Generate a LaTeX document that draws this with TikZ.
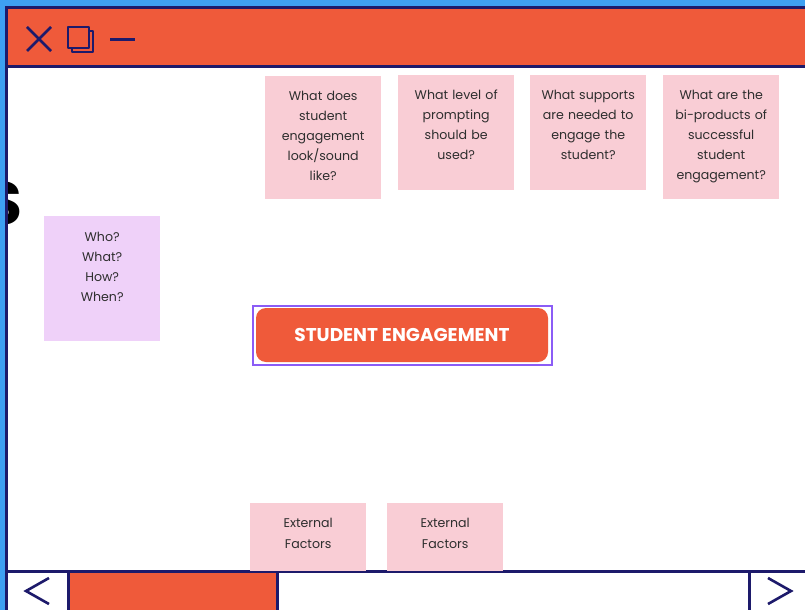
\documentclass[tikz,border=0pt]{standalone}
\usepackage{fontspec}
\setmainfont{Poppins}
\usetikzlibrary{positioning}
\definecolor{skyblue}{HTML}{3EA0F2}
\definecolor{navy}{HTML}{1D1A6B}
\definecolor{tomato}{HTML}{EF5A3A}
\definecolor{notepink}{HTML}{F9CDD5}
\definecolor{notelilac}{HTML}{EFD1F9}
\definecolor{selviolet}{HTML}{8B5CF6}
\definecolor{notetextgray}{HTML}{2E2E2E}
\tikzset{%
    frame/.style={navy, line width=3pt},
    icon/.style={navy, line width=2.6pt},
    note/.style={fill=notepink, draw=none, minimum width=116pt, inner sep=0pt, anchor=north west},
    lilac/.style={note, fill=notelilac},
    notetext/.style={text=notetextgray, align=center, inner sep=0pt, anchor=north,
        font=\fontsize{12.6}{20}\selectfont, text width=114pt},
    button/.style={fill=tomato, rounded corners=10pt, minimum width=292pt, minimum height=54pt,
        text=white, font=\fontsize{18.5}{20}\selectfont\bfseries},
    selection/.style={draw=selviolet, line width=2pt, minimum width=299pt, minimum height=59pt},
  }
\begin{document}
\begin{tikzpicture}[x=1pt, y=-1pt]
    \useasboundingbox (0,0) rectangle (805,610);
    % window frame
    \fill[skyblue] (0,0) rectangle (805,610);
    \fill[white] (6,7) rectangle (805,610);
    \fill[tomato] (6,7) rectangle (805,66);
    \draw[frame] (805,7.5) -- (6.5,7.5) -- (6.5,610);
    \draw[frame] (6.5,66.5) -- (805,66.5);
    \draw[frame] (6.5,571.5) -- (805,571.5);
    \fill[tomato] (68,573) rectangle (277,610);
    \draw[frame] (68,571.5) -- (68,610);
    \draw[frame] (277,571.5) -- (277,610);
    \draw[frame] (749,571.5) -- (749,610);
    % title bar icons
    \draw[icon] (27,27) -- (51,51) (51,27) -- (27,51);
    \draw[icon, line join=round] (72,48) -- (72,52) -- (93,52) -- (93,31) -- (89,31);
    \draw[icon, line join=round] (68,27) rectangle (89,48);
    \draw[icon] (110,39.5) -- (135,39.5);
    % scroll arrows
    \draw[icon] (49,578) -- (26,591) -- (49,604);
    \draw[icon] (768,578) -- (791,591) -- (768,604);
    % cut off heading letter
    \begin{scope}
      \clip (8,68) rectangle (805,570);
      \node (heading) [anchor=south east, inner sep=0pt, font=\fontsize{60}{60}\selectfont\bfseries] at (23,225) {S};
    \end{scope}

    % question notes
    \node (look) [note, minimum height=123pt] at (265,76) {};
    \node (looktext) [notetext, below=15pt of look.north] {What does\\student\\engagement\\look/sound\\like?};
    \node (prompt) [note, minimum height=115pt] at (398,75) {};
    \node (prompttext) [notetext, below=15pt of prompt.north] {What level of\\prompting\\should be\\used?};
    \node (support) [note, minimum height=115pt] at (530,75) {};
    \node (supporttext) [notetext, below=15pt of support.north] {What supports\\are needed to\\engage the\\student?};
    \node (byprod) [note, minimum height=124pt] at (663,75) {};
    \node (byprodtext) [notetext, below=15pt of byprod.north] {What are the\\bi-products of\\successful\\student\\engagement?};
    %
    \node (who) [lilac, minimum height=125pt] at (44,216) {};
    \node (whotext) [notetext, below=16pt of who.north] {Who?\\What?\\How?\\When?};
    %
    \node (engage) [button] at (402,335) {STUDENT ENGAGEMENT};
    \node (engagesel) [selection] at (engage.center) {};
    %
    \node (extA) [note, minimum height=68pt] at (250,503) {};
    \node (extAtext) [notetext, below=15pt of extA.north, font=\fontsize{12.6}{21}\selectfont] {External\\Factors};
    \node (extB) [note, minimum height=68pt] at (387,503) {};
    \node (extBtext) [notetext, below=15pt of extB.north, font=\fontsize{12.6}{21}\selectfont] {External\\Factors};
  \end{tikzpicture}
\end{document}
